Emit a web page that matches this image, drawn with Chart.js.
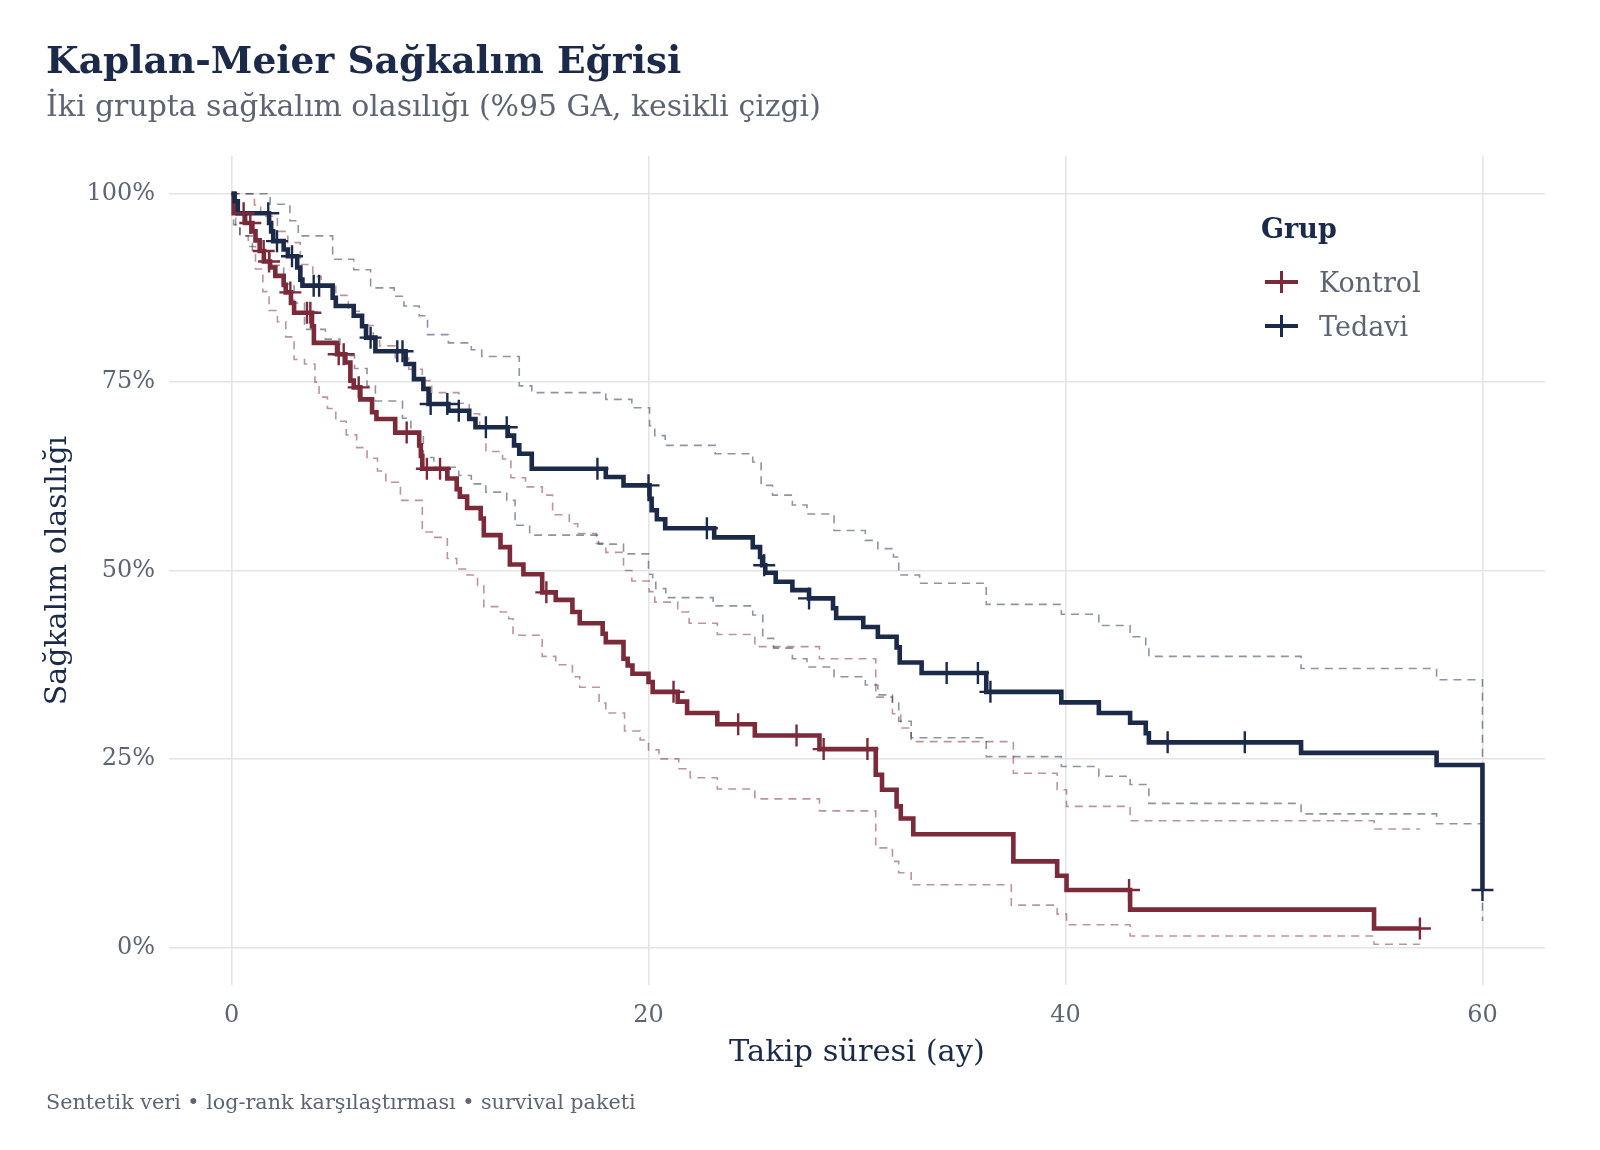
<!DOCTYPE html>
<html lang="tr">
<head>
<meta charset="utf-8">
<title>Kaplan-Meier Sağkalım Eğrisi</title>
<script src="https://cdn.jsdelivr.net/npm/chart.js@4.4.1/dist/chart.umd.min.js"></script>
<style>
  body { margin: 0; background: #ffffff; }
  #wrap { position: relative; width: 1600px; height: 1150px; overflow: hidden; }
  #chart { position: absolute; left: 0; top: 0; }
  .txt { position: absolute; font-family: 'DejaVu Serif', serif; line-height: 1; white-space: nowrap; }
  #title { left: 46px; top: 42px; font-size: 37.6px; font-weight: bold; color: #1c2a4a; }
  #subtitle { left: 46px; top: 91px; font-size: 29.9px; color: #5d6472; }
  #caption { left: 46px; top: 1092px; font-size: 20.7px; color: #5d6472; }
  #legTitle { left: 1261px; top: 215px; font-size: 27px; font-weight: bold; color: #1c2a4a; }
  .legLabel { font-size: 27px; color: #5d6472; }
  .legKey { position: absolute; width: 33px; height: 22px; }
  .legKey .h { position: absolute; left: 0; top: 9px; width: 33px; height: 4px; }
  .legKey .v { position: absolute; left: 15px; top: 0; width: 3px; height: 22px; }
</style>
</head>
<body>
<div id="wrap">
  <canvas id="chart" width="1600" height="1150"></canvas>
  <div id="title" class="txt">Kaplan-Meier Sağkalım Eğrisi</div>
  <div id="subtitle" class="txt">İki grupta sağkalım olasılığı (%95 GA, kesikli çizgi)</div>
  <div id="caption" class="txt">Sentetik veri • log-rank karşılaştırması • survival paketi</div>
  <div id="legTitle" class="txt">Grup</div>
  <div class="legKey" style="left:1265px; top:271px;"><div class="h" style="background:#7b2a39"></div><div class="v" style="background:#7b2a39"></div></div>
  <div class="txt legLabel" style="left:1319px; top:269px;">Kontrol</div>
  <div class="legKey" style="left:1265px; top:315px;"><div class="h" style="background:#1c2a4a"></div><div class="v" style="background:#1c2a4a"></div></div>
  <div class="txt legLabel" style="left:1319px; top:313px;">Tedavi</div>
</div>
<script>
const FONT = "'DejaVu Serif', serif";
const NAVY = '#1c2a4a';
const RED = '#7b2a39';
const GRAY_TXT = '#5d6472';
const GRID = '#e4e4e4';

const groups = ['Kontrol', 'Tedavi'];
const xTicks = [0, 20, 40, 60];
const yTicks = [0, 25, 50, 75, 100];

// Tedavi: KM adımları (ay, %)
const tedaviTime = [0, 0.15, 0.3, 1.8, 1.9, 2.0, 2.5, 2.7, 3.15, 3.3, 3.4, 4.85, 5.0, 5.86, 6.26, 6.45, 6.9, 8.35, 8.75, 9.2,
  9.45, 10.4, 11.4, 11.7, 13.25, 13.55, 13.8, 14.4, 17.95, 18.8, 20.05, 20.15, 20.4, 20.8, 23.15, 25.0, 25.35, 25.45, 25.6, 26.1,
  26.9, 27.7, 28.85, 29.0, 30.3, 31.0, 31.9, 32.05, 33.1, 36.2, 39.8, 41.6, 43.1, 43.85, 44.0, 51.3, 57.8, 60.0];
const tedaviSurv = [100, 99.0, 97.4, 96.1, 95.0, 93.7, 92.6, 91.7, 90.2, 88.6, 87.8, 86.2, 85.1, 83.8, 82.4, 80.9, 79.1, 77.4, 75.4, 74.1,
  72.1, 71.2, 70.1, 69.0, 67.9, 66.6, 65.5, 63.5, 62.4, 61.3, 59.5, 58.0, 56.8, 55.6, 54.4, 53.1, 51.8, 50.7, 49.7, 48.5,
  47.4, 46.3, 45.0, 43.7, 42.5, 41.2, 39.8, 37.8, 36.4, 33.9, 32.5, 31.1, 29.8, 28.4, 27.2, 25.8, 24.2, 7.6];
const tedaviCens = [1.76, 2.18, 2.9, 3.94, 4.2, 6.67, 7.95, 8.2, 9.55, 10.35, 10.9, 12.2, 13.2, 17.55, 20.0, 22.8, 25.55, 27.7,
  34.3, 35.8, 36.4, 44.9, 48.6, 60.0];
const tedaviUpTime = [0, 1.85, 2.8, 3.2, 4.85, 5.86, 6.67, 7.8, 8.27, 9.0, 9.4, 10.4, 11.5, 12.0, 13.8, 14.4, 17.95, 19.2, 20.05, 20.3,
  20.8, 23.2, 25.0, 25.4, 25.95, 26.9, 27.6, 28.9, 30.4, 31.0, 31.75, 32.0, 33.0, 36.2, 39.8, 41.6, 43.1, 43.85, 44.0, 51.3, 57.8, 60.0];
const tedaviUpVal = [100, 98.6, 96.4, 94.4, 91.3, 89.9, 87.5, 86.4, 85.1, 83.8, 81.3, 80.2, 79.3, 78.4, 74.5, 73.6, 72.7, 71.6, 69.2, 67.9,
  66.6, 65.5, 64.4, 61.3, 60.0, 58.7, 57.5, 55.3, 54.0, 52.9, 51.8, 49.4, 48.3, 45.5, 44.2, 42.7, 41.2, 39.9, 38.6, 37.0, 35.5, 12.0];
const tedaviLowTime = [0, 0.1, 0.4, 1.0, 1.85, 2.5, 3.0, 3.5, 4.5, 5.2, 5.9, 6.5, 6.9, 8.2, 8.6, 9.2, 9.7, 10.9, 11.5, 12.2,
  13.2, 13.6, 14.3, 17.6, 18.8, 20.0, 20.2, 20.35, 20.83, 23.1, 25.0, 25.48, 26.0, 26.9, 27.6, 28.9, 30.4, 31.0, 31.7, 32.0,
  32.6, 36.2, 39.8, 41.6, 43.1, 44.0, 51.3, 57.8, 60.0];
const tedaviLowVal = [100, 95.9, 94.4, 92.5, 90.5, 88.0, 85.5, 82.0, 80.7, 78.5, 76.8, 74.5, 72.5, 70.2, 68.3, 65.0, 63.7, 62.6, 61.5, 60.4,
  59.3, 56.0, 54.7, 53.5, 52.2, 49.5, 48.9, 47.6, 46.4, 45.3, 44.1, 41.0, 39.7, 38.3, 37.2, 35.9, 34.8, 33.5, 32.4, 30.0,
  27.8, 25.3, 24.0, 22.7, 21.6, 19.1, 17.7, 16.4, 3.5];

// Kontrol
const kontrolTime = [0, 0.1, 0.65, 1.0, 1.15, 1.35, 1.55, 1.85, 2.1, 2.5, 2.6, 2.85, 3.0, 3.86, 3.95, 5.06, 5.46, 5.7, 5.86, 6.18,
  6.74, 6.95, 7.85, 9.0, 9.08, 9.15, 10.35, 10.8, 10.95, 11.3, 11.95, 12.1, 12.9, 13.35, 14.0, 14.9, 15.55, 16.35, 16.7, 17.8,
  17.95, 18.8, 19.0, 19.23, 20.0, 20.2, 21.4, 21.85, 23.3, 25.1, 28.2, 30.9, 31.2, 31.9, 32.1, 32.7, 37.5, 39.6, 40.05, 43.1,
  54.8, 57.0];
const kontrolSurv = [100, 97.4, 96.1, 95.0, 93.8, 92.4, 91.0, 90.2, 89.1, 87.9, 86.9, 85.5, 84.2, 82.4, 80.2, 78.7, 77.6, 75.2, 74.3, 72.7,
  71.0, 70.1, 68.3, 66.6, 65.2, 63.5, 62.2, 60.8, 59.8, 58.3, 56.9, 54.7, 53.1, 50.8, 49.5, 47.1, 46.1, 44.5, 43.0, 41.6,
  40.5, 38.3, 37.4, 36.3, 35.2, 33.9, 32.6, 31.1, 29.6, 28.1, 26.3, 22.9, 20.9, 18.7, 17.1, 15.0, 11.4, 9.5, 7.6, 5.0,
  2.5, 2.5];
const kontrolCens = [0.58, 0.9, 1.54, 1.8, 2.82, 3.62, 3.78, 5.14, 5.38, 6.1, 8.4, 9.37, 10.0, 15.1, 21.2, 24.3, 27.1, 28.4,
  30.5, 43.05, 57.0];
const kontrolUpTime = [0, 1.1, 1.4, 2.2, 2.7, 3.3, 3.9, 4.3, 5.0, 5.6, 6.2, 6.8, 7.1, 7.85, 8.5, 9.15, 9.6, 10.9, 11.4, 11.9,
  12.2, 13.0, 13.4, 14.1, 14.9, 15.4, 16.2, 16.6, 17.5, 17.95, 18.8, 19.2, 20.03, 20.3, 21.4, 21.95, 23.3, 25.1, 28.2, 30.9,
  31.7, 32.1, 32.6, 37.5, 39.6, 40.05, 43.1, 54.8, 57.0];
const kontrolUpVal = [100, 98.5, 97.0, 95.0, 93.5, 90.6, 89.0, 87.7, 86.5, 84.4, 82.5, 81.0, 79.8, 78.2, 76.7, 75.2, 73.6, 72.2, 70.8, 69.0,
  65.8, 64.8, 62.3, 61.1, 60.0, 57.4, 56.2, 54.9, 53.6, 52.4, 50.0, 48.6, 47.2, 45.8, 44.5, 43.0, 41.5, 39.9, 38.3, 33.2,
  31.0, 29.1, 27.3, 23.1, 20.9, 18.7, 16.8, 15.7, 15.7];
const kontrolLowTime = [0, 0.2, 0.4, 0.8, 1.15, 1.5, 1.8, 2.2, 2.6, 3.0, 3.5, 4.0, 4.2, 4.6, 5.0, 5.5, 6.0, 6.5, 7.0, 7.4,
  8.1, 9.15, 9.7, 10.35, 10.8, 11.3, 11.8, 12.1, 12.9, 13.3, 13.5, 14.9, 15.55, 16.35, 16.7, 17.63, 17.95, 18.85, 19.6, 20.0,
  20.5, 21.45, 22.0, 23.3, 25.1, 28.2, 30.9, 31.7, 32.0, 32.6, 37.4, 39.6, 40.05, 43.1, 54.8, 57.0];
const kontrolLowVal = [100, 95.6, 94.4, 93.0, 90.0, 87.0, 84.5, 83.0, 81.0, 78.0, 77.4, 75.0, 73.0, 71.5, 69.8, 68.0, 66.3, 64.9, 63.2, 61.7,
  59.3, 55.1, 54.4, 51.6, 50.2, 49.4, 48.0, 45.2, 44.5, 43.6, 41.4, 38.6, 37.5, 35.9, 34.5, 32.4, 31.1, 28.7, 27.5, 26.2,
  25.0, 23.7, 22.5, 21.0, 19.7, 18.1, 13.2, 11.4, 9.9, 8.3, 5.6, 4.4, 3.0, 1.5, 0.4, 0.4];

const pts = (t, v) => t.map((x, i) => ({ x: x, y: v[i] }));

// sansür noktası: o andaki eğri değeri
function survAt(times, vals, t) {
  let s = vals[0];
  for (let i = 0; i < times.length; i++) {
    if (times[i] <= t) s = vals[i];
  }
  return s;
}
const censPts = (c, t, v) => c.map(x => ({ x: x, y: survAt(t, v, x) }));

function stepLine(label, data, color, width, dash, order) {
  return {
    type: 'line', label: label, data: data, stepped: 'before',
    borderColor: color, borderWidth: width, borderDash: dash,
    borderJoinStyle: 'miter', borderCapStyle: 'butt',
    pointRadius: 0, fill: false, order: order
  };
}
function censorSet(label, data, color, order) {
  return {
    type: 'line', label: label, data: data, showLine: false,
    pointStyle: 'cross', pointRadius: 11, pointBorderWidth: 2.4,
    pointBorderColor: color, borderColor: color, order: order
  };
}

const RED_CI = 'rgba(123, 42, 57, 0.5)';
const NAVY_CI = 'rgba(28, 42, 74, 0.5)';
const DASH = [8, 6];

new Chart(document.getElementById('chart'), {
  type: 'line',
  data: {
    datasets: [
      stepLine(groups[0] + ' üst', pts(kontrolUpTime, kontrolUpVal), RED_CI, 1.6, DASH, 10),
      stepLine(groups[0] + ' alt', pts(kontrolLowTime, kontrolLowVal), RED_CI, 1.6, DASH, 10),
      stepLine(groups[1] + ' üst', pts(tedaviUpTime, tedaviUpVal), NAVY_CI, 1.6, DASH, 9),
      stepLine(groups[1] + ' alt', pts(tedaviLowTime, tedaviLowVal), NAVY_CI, 1.6, DASH, 9),
      stepLine(groups[0], pts(kontrolTime, kontrolSurv), RED, 4.6, [], 5),
      stepLine(groups[1], pts(tedaviTime, tedaviSurv), NAVY, 4.6, [], 4),
      censorSet(groups[0] + ' sansür', censPts(kontrolCens, kontrolTime, kontrolSurv), RED, 3),
      censorSet(groups[1] + ' sansür', censPts(tedaviCens, tedaviTime, tedaviSurv), NAVY, 2)
    ]
  },
  options: {
    responsive: false,
    animation: false,
    devicePixelRatio: 1,
    layout: { padding: { top: 156, right: 55, left: 0, bottom: 0 } },
    plugins: { legend: { display: false }, tooltip: { enabled: false } },
    scales: {
      x: {
        type: 'linear', min: -3, max: 63,
        afterFit: s => { s.height = 165; },
        afterBuildTicks: s => { s.ticks = xTicks.map(v => ({ value: v })); },
        grid: { color: GRID, lineWidth: 1.6, drawTicks: false },
        border: { display: false },
        ticks: { padding: 16, color: GRAY_TXT, font: { family: FONT, size: 24 } },
        title: { display: true, text: 'Takip süresi (ay)', color: NAVY, font: { family: FONT, size: 30.5 }, padding: { top: 0, bottom: 79 } }
      },
      y: {
        type: 'linear', min: -5, max: 105,
        afterFit: s => { s.width = 169; },
        afterBuildTicks: s => { s.ticks = yTicks.map(v => ({ value: v })); },
        grid: { color: GRID, lineWidth: 1.6, drawTicks: false },
        border: { display: false },
        ticks: { padding: 14, color: GRAY_TXT, font: { family: FONT, size: 24 }, callback: v => v + '%' },
        title: { display: true, text: 'Sağkalım olasılığı', color: NAVY, font: { family: FONT, size: 30 }, padding: { top: 40, bottom: 0 } }
      }
    }
  }
});
</script>
</body>
</html>
